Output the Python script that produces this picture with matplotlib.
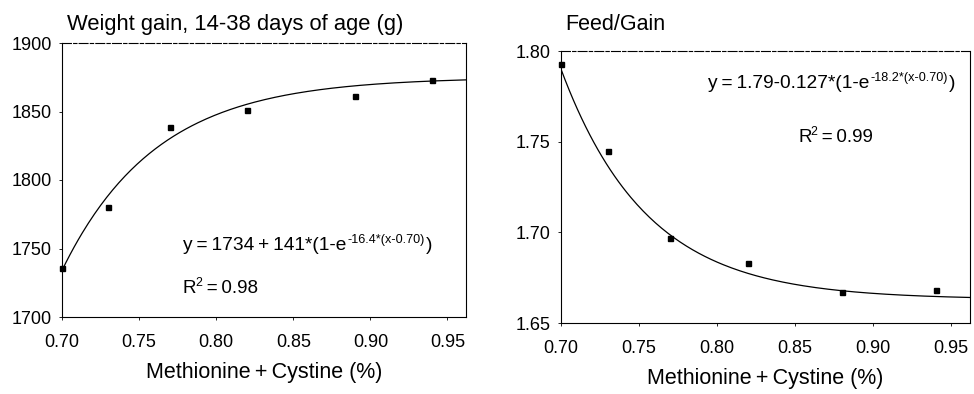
import numpy as np
import matplotlib.pyplot as plt

plt.rcParams['font.family'] = ['Liberation Sans', 'DejaVu Sans']

# methionine + cystine levels (%)
met_cys = [0.70, 0.73, 0.77, 0.82, 0.89, 0.94]
weight_gain = [1736, 1780, 1839, 1851, 1861, 1873]

met_cys_fg = [0.70, 0.73, 0.77, 0.82, 0.88, 0.94]
feed_gain = [1.793, 1.745, 1.697, 1.683, 1.667, 1.668]

# fitted exponential parameters: y = a + b*(1 - exp(-c*(x - 0.70)))
wg_fit = (1734, 141, 16.4)
fg_fit = (1.79, -0.127, 18.2)

xticks = [0.70, 0.75, 0.80, 0.85, 0.90, 0.95]

W, H = 974, 394
TS = '\u2009'  # thin space around = and +


def fit_curve(x, a, b, c):
    return a + b * (1 - np.exp(-c * (x - 0.70)))


fig = plt.figure(figsize=(W / 100, H / 100), dpi=100)
ax1 = fig.add_axes([62 / W, 1 - 317 / H, 404 / W, 274 / H])
ax2 = fig.add_axes([561 / W, 1 - 323 / H, 409 / W, 272 / H])


def px_text(x, y, s, size, **kw):
    # place text by pixel position (x left, y baseline from top)
    return fig.text(x / W, 1 - y / H, s, fontsize=size, va='baseline', ha='left', **kw)


def equation(x, y, base, sup, tail, size=13.5, gap=1):
    renderer = fig.canvas.get_renderer()
    t = px_text(x, y, base, size)
    x1 = t.get_window_extent(renderer).x1
    s = px_text(x1 + gap, y - 7, sup, size * 0.66)
    x2 = s.get_window_extent(renderer).x1
    px_text(x2 + 1, y, tail, size)


xs = np.linspace(0.70, 0.962, 200)

# weight gain panel
ax1.plot(xs, fit_curve(xs, *wg_fit), color='black', lw=0.9)
ax1.plot(met_cys, weight_gain, 's', color='black', ms=3.6, clip_on=False)
ax1.set_xlim(0.70, 0.962)
ax1.set_ylim(1700, 1900)
ax1.set_yticks([1700, 1750, 1800, 1850, 1900])

# feed/gain panel
ax2.plot(xs, fit_curve(xs, *fg_fit), color='black', lw=0.9)
ax2.plot(met_cys_fg, feed_gain, 's', color='black', ms=3.6, clip_on=False)
ax2.set_xlim(0.70, 0.962)
ax2.set_ylim(1.65, 1.80)
ax2.set_yticks([1.65, 1.70, 1.75, 1.80])
ax2.set_yticklabels(['1.65', '1.70', '1.75', '1.80'])

for ax in (ax1, ax2):
    ax.set_xticks(xticks)
    ax.set_xticklabels(['%.2f' % t for t in xticks])
    for s in ax.spines.values():
        s.set_linewidth(0.8)
    ax.spines['top'].set_linestyle((0, (8, 2, 3, 2)))
    ax.tick_params(direction='out', length=2.5, width=0.6, labelsize=13)
    ax.tick_params(axis='x', pad=9.5)
    ax.tick_params(axis='y', pad=5)
    ax.set_xlabel('Methionine' + TS + '+' + TS + 'Cystine (%)', fontsize=15.5, labelpad=8)

px_text(67, 30, 'Weight gain, 14-38 days of age (g)', 15.8)
px_text(565, 30, 'Feed/Gain', 15.5)

fig.canvas.draw()
eq = lambda s: s.replace('=', TS + '=' + TS).replace('+', TS + '+' + TS)
equation(183, 250, eq('y=1734+141*(1-e'), '-16.4*(x-0.70)', ')', size=13.8)
equation(183, 293, 'R', '2', eq('=0.98'), gap=-1)
equation(708, 88, eq('y=1.79-0.127*(1-e'), '-18.2*(x-0.70)', ')', size=13.8)
equation(798, 142, 'R', '2', eq('=0.99'), gap=-1)

fig.savefig('out.png', dpi=100)
